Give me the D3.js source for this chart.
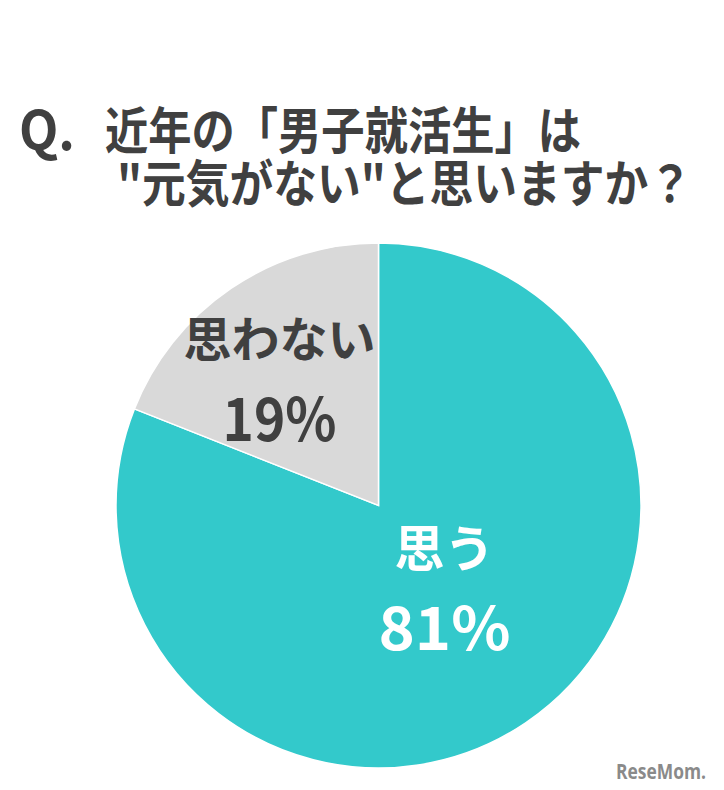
<!DOCTYPE html>
<html><head><meta charset="utf-8">
<script src="https://cdn.jsdelivr.net/npm/d3@7"></script>
<style>body{margin:0;background:#fff}svg{display:block}</style>
</head><body>
<svg id="c" width="724" height="790"></svg>
<script>
const categories = ["思う", "思わない"];
const values = [81, 19];
const valueLabels = ["81%", "19%"];
const titleLines = ["近年の「男子就活生」は", "\"元気がない\"と思いますか？"];
const colors = ["#33C9CB", "#D9D9D9"];
const labelColors = ["#FFFFFF", "#404040"];

const svg = d3.select("#c");
const font = "'Noto Sans CJK JP', sans-serif";
const cx = 378.5, cy = 505.5, r = 262.5;

// title
svg.append("text").attr("x", 19).attr("y", 150).attr("font-family", font).attr("font-weight", 700)
  .attr("font-size", 54).attr("fill", "#404040").attr("textLength", 56).attr("lengthAdjust","spacingAndGlyphs").text("Q.");
svg.append("text").attr("x", 105).attr("y", 149).attr("font-family", font).attr("font-weight", 700)
  .attr("font-size", 50).attr("fill", "#404040").attr("textLength", 476).attr("lengthAdjust","spacingAndGlyphs").text(titleLines[0]);
svg.append("text").attr("x", 117).attr("y", 202).attr("font-family", font).attr("font-weight", 700)
  .attr("font-size", 50).attr("fill", "#404040").attr("textLength", 575).attr("lengthAdjust","spacingAndGlyphs").text(titleLines[1]);

// pie
const pie = d3.pie().sort(null).value(d => d).startAngle(0).endAngle(2*Math.PI);
const arcs = pie(values);
const arc = d3.arc().innerRadius(0).outerRadius(r);
const g = svg.append("g").attr("transform", `translate(${cx},${cy})`);
g.selectAll("path").data(arcs).join("path")
  .attr("d", arc).attr("fill", (d,i) => colors[i])
  .attr("stroke", "#fff").attr("stroke-width", 1.5);

// labels: [dx, nameY, valueY, nameSize, valueSize, valueWidth]
const labelPos = [[66, 61.5, 144.5, 50, 60, 132], [-99, -148.5, -64.5, 48, 59, 114]];
arcs.forEach((a, i) => {
  const p = labelPos[i];
  const lx = cx + p[0];
  svg.append("text").attr("x", lx).attr("y", cy + p[1]).attr("text-anchor", "middle")
    .attr("font-family", font).attr("font-weight", 700).attr("font-size", p[3])
    .attr("fill", labelColors[i]).text(categories[i]);
  svg.append("text").attr("x", lx).attr("y", cy + p[2]).attr("text-anchor", "middle")
    .attr("font-family", font).attr("font-weight", 700).attr("font-size", p[4])
    .attr("textLength", p[5]).attr("lengthAdjust","spacingAndGlyphs")
    .attr("fill", labelColors[i]).text(valueLabels[i]);
});

// watermark
svg.append("text").attr("x", 616).attr("y", 779).attr("font-family", "'Open Sans', sans-serif")
  .attr("font-weight", 700).attr("font-size", 21).attr("fill", "#8a8a8a")
  .attr("textLength", 90).attr("lengthAdjust","spacingAndGlyphs").text("ReseMom.");
</script>
</body></html>
